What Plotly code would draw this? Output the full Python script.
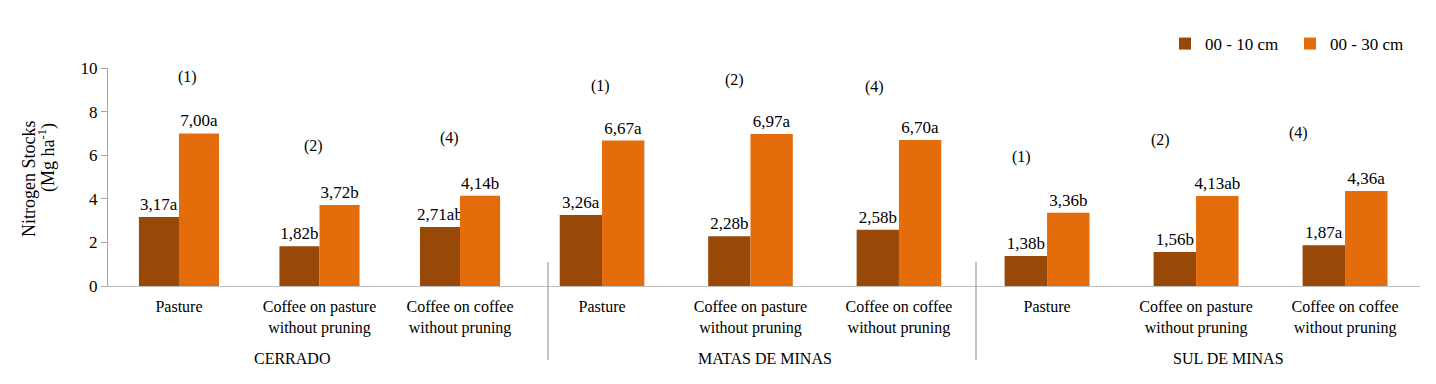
import plotly.graph_objects as go

# ---- data ----
regions = ["CERRADO", "MATAS DE MINAS", "SUL DE MINAS"]
systems = ["Pasture", "Coffee on pasture<br>without pruning", "Coffee on coffee<br>without pruning"]
series_names = ["00 - 10 cm", "00 - 30 cm"]

n_0_10 = [[3.17, 1.82, 2.71], [3.26, 2.28, 2.58], [1.38, 1.56, 1.87]]
letters_0_10 = [["a", "b", "ab"], ["a", "b", "b"], ["b", "b", "a"]]
n_0_30 = [[7.00, 3.72, 4.14], [6.67, 6.97, 6.70], [3.36, 4.13, 4.36]]
letters_0_30 = [["a", "b", "b"], ["a", "a", "a"], ["b", "ab", "a"]]
notes = ["(1)", "(2)", "(4)"]
y_ticks = [0, 2, 4, 6, 8, 10]
y_title = ["Nitrogen Stocks", "(Mg ha<sup>-1</sup>)"]

# ---- layout helpers (screen pixel -> paper); page body has an 8px margin ----
OFF = 8
W, H = 1428, 376
ML, MR, MT, MB = 100, 16, 60, 98
PW, PH = W - ML - MR, H - MT - MB


def px(x):
    return (x - OFF - ML) / PW


def py(y):
    return (H - MB - (y - OFF)) / PH


FONT = "Liberation Serif"
DARK = "#984807"
ORANGE = "#E46C0A"

fig = go.Figure()
xaxes = ["x", "x2", "x3"]
for r in range(3):
    for s, (vals, lets, col) in enumerate([(n_0_10[r], letters_0_10[r], DARK),
                                          (n_0_30[r], letters_0_30[r], ORANGE)]):
        fig.add_trace(go.Bar(
            x=systems, y=vals,
            text=[f"{v:.2f}".replace(".", ",") + l for v, l in zip(vals, lets)],
            textposition="outside", constraintext="none", cliponaxis=False,
            textfont=dict(family=FONT, size=17, color="#000"),
            marker=dict(color=col, line=dict(width=0)),
            name=series_names[s], legendgroup=series_names[s],
            showlegend=(r == 0), xaxis=xaxes[r], yaxis="y",
            hoverinfo="skip",
        ))


def label(text, x, y, size=16, angle=0):
    return dict(text=text, x=px(x), y=py(y), xref="paper", yref="paper", showarrow=False,
                xanchor="center", yanchor="middle", textangle=angle,
                font=dict(family=FONT, size=size, color="#000"))


note_pos = [[(187, 77), (313, 146), (449, 138)],
            [(600, 86), (734, 80), (874, 87)],
            [(1021, 157), (1160, 140), (1298, 133)]]
annotations = []
for r in range(3):
    for i in range(3):
        x, y = note_pos[r][i]
        annotations.append(label(notes[i], x, y, 16))
region_pos = [(292, 358), (765, 358), (1228, 358)]
for r in range(3):
    x, y = region_pos[r]
    annotations.append(label(regions[r], x, y, 16))
annotations.append(label(y_title[0], 29, 179, 18, -90))
annotations.append(label(y_title[1], 47, 158, 18, -90))

shapes = []
for xs in (548, 976):
    shapes.append(dict(type="line", xref="paper", yref="paper", x0=px(xs), x1=px(xs),
                       y0=py(262), y1=py(360), line=dict(color="#8C8C8C", width=1)))

splits = [px(548), px(976)]
domains = [[0, splits[0]], [splits[0], splits[1]], [splits[1], 1]]
ranges = [[-0.505, 2.626], [-0.364, 2.519], [-0.477, 2.503]]

xaxis_common = dict(type="category", showline=True, linecolor="#BFBFBF", linewidth=1,
                    ticks="", showgrid=False, zeroline=False, anchor="y",
                    tickfont=dict(family=FONT, size=16, color="#000"), ticklabelstandoff=6)

fig.update_layout(
    width=W, height=H,
    margin=dict(l=ML, r=MR, t=MT, b=MB, autoexpand=False),
    paper_bgcolor="white", plot_bgcolor="white",
    barmode="group", bargap=0.43, bargroupgap=0,
    font=dict(family=FONT, color="#000"),
    xaxis=dict(domain=domains[0], range=ranges[0], **xaxis_common),
    xaxis2=dict(domain=domains[1], range=ranges[1], **xaxis_common),
    xaxis3=dict(domain=domains[2], range=ranges[2], **xaxis_common),
    yaxis=dict(range=[0, 10], tickvals=y_ticks, showline=True, linecolor="#A6A6A6", linewidth=1,
               ticks="outside", ticklen=6, tickcolor="#A6A6A6", showgrid=False, zeroline=False,
               tickfont=dict(family=FONT, size=17, color="#000"), anchor="x"),
    legend=dict(orientation="h", x=px(1165), y=py(44), xanchor="left", yanchor="middle",
                font=dict(family=FONT, size=17, color="#000"), itemwidth=30,
                entrywidth=80, entrywidthmode="pixels",
                bgcolor="rgba(0,0,0,0)", traceorder="normal"),
    annotations=annotations,
    shapes=shapes,
)

fig.write_html("out.html")
